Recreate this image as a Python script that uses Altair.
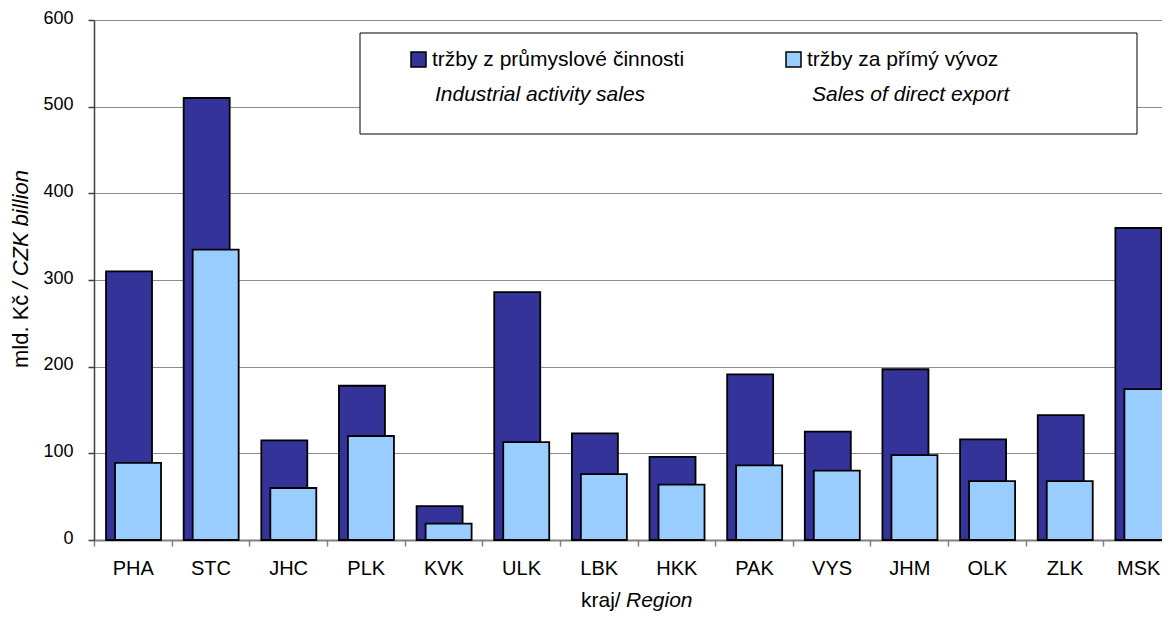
import altair as alt
import pandas as pd

regions = ["PHA", "STC", "JHC", "PLK", "KVK", "ULK", "LBK", "HKK", "PAK", "VYS", "JHM", "OLK", "ZLK", "MSK"]
industrial = [310, 510, 115, 178, 39, 286, 123, 96, 191, 125, 197, 116, 144, 360]
export = [89, 335, 60, 120, 19, 113, 76, 64, 86, 80, 98, 68, 68, 174]
series_cz = ["tržby z průmyslové činnosti", "tržby za přímý vývoz"]
series_en = ["Industrial activity sales", "Sales of direct export"]
colors = ["#333399", "#99CCFF"]
y_ticks = [0, 100, 200, 300, 400, 500, 600]
y_title_parts = ["mld. Kč", "/ CZK billion"]
x_title_parts = ["kraj/", "Region"]

FONT = "Liberation Sans"

rows = []
for r, a, b in zip(regions, industrial, export):
    rows.append({"region": r, "series": series_cz[0], "value": a})
    rows.append({"region": r, "series": series_cz[1], "value": b})
df = pd.DataFrame(rows)

x_enc = alt.X(
    "region:N",
    sort=regions,
    scale=alt.Scale(paddingInner=0, paddingOuter=0),
    axis=alt.Axis(
        title=None, labelAngle=0, labelFont=FONT, labelFontSize=20, labelColor="black",
        tickBand="extent", tickSize=6, tickColor="#808080", tickWidth=1.5,
        domainColor="#808080", domainWidth=2, labelPadding=12, grid=False,
        labelOffset={"condition": {"test": f"datum.value == '{regions[-1]}'", "value": -4}, "value": 0},
    ),
)
y_enc = alt.Y(
    "value:Q",
    scale=alt.Scale(domain=[0, 600], nice=False),
    axis=alt.Axis(
        title=None, values=y_ticks, grid=True, gridColor="#8c8c8c", gridWidth=1,
        tickSize=6, tickColor="#404040", tickWidth=1.5, domainColor="#404040", domainWidth=1.5,
        labelFont=FONT, labelFontSize=18, labelPadding=15, labelColor="black", labelOffset=-2,
    ),
)
color_enc = alt.Color(
    "series:N",
    scale=alt.Scale(domain=series_cz, range=colors),
    legend=alt.Legend(
        title=None, orient="none", legendX=314, legendY=29, direction="horizontal",
        columns=2, columnPadding=98, symbolType="square", symbolSize=225,
        symbolStrokeColor="black", symbolStrokeWidth=1.5, symbolOpacity=1,
        labelFont=FONT, labelFontSize=21, labelOffset=3, labelLimit=500, labelColor="black",
    ),
)

base = alt.Chart(df)
dark = base.transform_filter(alt.datum.series == series_cz[0]).mark_bar(
    width=46, xOffset=-3.8, stroke="black", strokeWidth=1.8, opacity=1
).encode(x=x_enc, y=y_enc, color=color_enc)
light = base.transform_filter(alt.datum.series == series_cz[1]).mark_bar(
    width=46, xOffset=5.2, stroke="black", strokeWidth=1.8, opacity=1
).encode(x=x_enc, y=y_enc, color=color_enc)

legend_box = alt.Chart(pd.DataFrame({"t": [0]})).mark_rect(
    fill="white", stroke="black", strokeWidth=1
).encode(x=alt.value(266), x2=alt.value(1043), y=alt.value(13), y2=alt.value(114))


def text_layer(txt, x, y, italic=False, angle=0, align="left", size=21):
    props = dict(align=align, baseline="alphabetic", font=FONT, fontSize=size, color="black")
    if italic:
        props["fontStyle"] = "italic"
    if angle:
        props["angle"] = angle
        props["baseline"] = "middle"
    return alt.Chart(pd.DataFrame({"t": [txt]})).mark_text(**props).encode(
        text="t:N", x=alt.value(x), y=alt.value(y)
    )


en1 = text_layer(series_en[0], 341, 81, italic=True)
en2 = text_layer(series_en[1], 718, 81, italic=True)
yt1 = text_layer(y_title_parts[0], -73, 348, angle=270, size=22)
yt2 = text_layer(y_title_parts[1], -73, 268.5, italic=True, angle=270, size=22)
xt1 = text_layer(x_title_parts[0], 487, 587, size=21)
xt2 = text_layer(x_title_parts[1], 532, 587, italic=True, size=21)

chart = alt.layer(legend_box, dark, light, en1, en2, yt1, yt2, xt1, xt2).properties(
    width=1087, height=520,
    autosize=alt.AutoSizeParams(type="none"),
    padding={"left": 86, "top": 12, "right": -19, "bottom": 71},
    background="white",
).configure_view(stroke=None)

chart.save("out.html", embed_options={"renderer": "svg", "actions": False})
